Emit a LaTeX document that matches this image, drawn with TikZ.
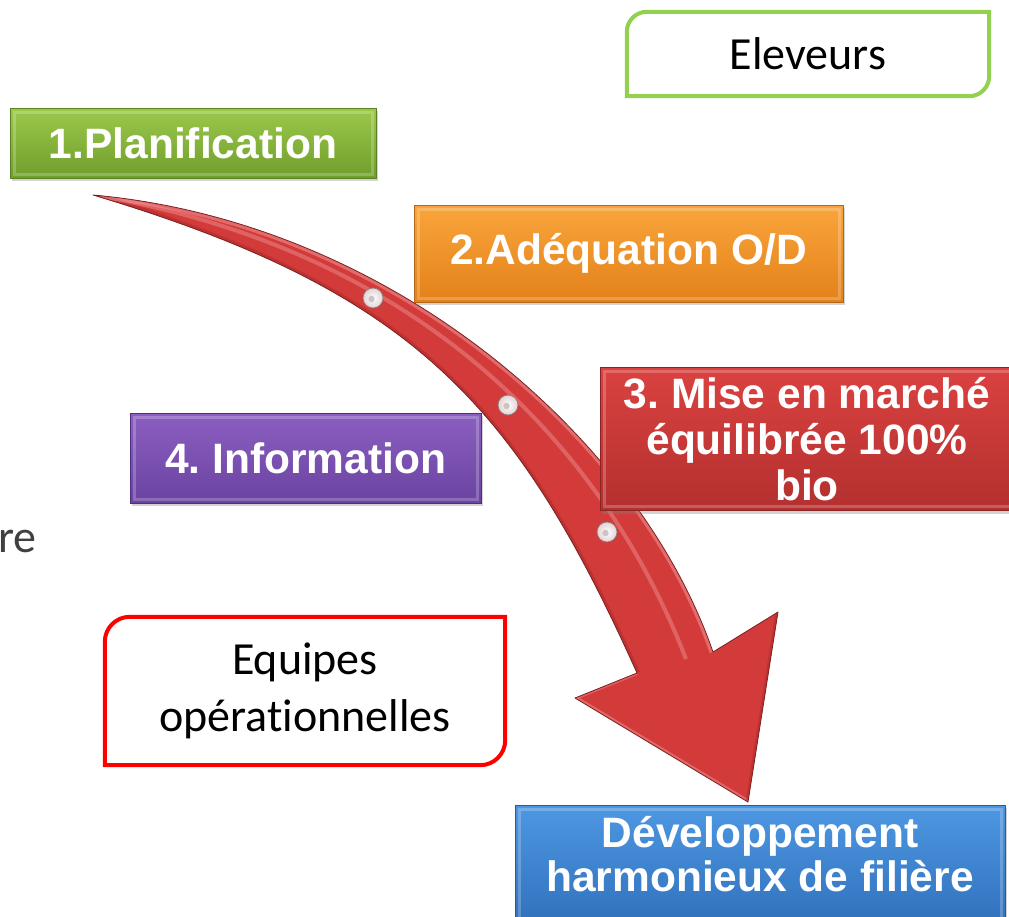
\documentclass[tikz,border=0pt]{standalone}
\usepackage{fontspec}
\setmainfont{Carlito}[Ligatures=NoCommon]
\newfontfamily\labelfont{Liberation Sans}
\usetikzlibrary{shadows}
\frenchspacing

\definecolor{greenT}{HTML}{9CC84C}
\definecolor{greenB}{HTML}{6F9E2B}
\definecolor{greenD}{HTML}{5A8224}
\definecolor{orangeT}{HTML}{F9A53B}
\definecolor{orangeB}{HTML}{E3811A}
\definecolor{orangeD}{HTML}{B5661A}
\definecolor{redT}{HTML}{DA4240}
\definecolor{redB}{HTML}{B3302F}
\definecolor{redD}{HTML}{8A2424}
\definecolor{purpleT}{HTML}{8B5FC1}
\definecolor{purpleB}{HTML}{6A43A0}
\definecolor{purpleD}{HTML}{4E3080}
\definecolor{blueT}{HTML}{4E97E2}
\definecolor{blueB}{HTML}{2F6FBA}
\definecolor{blueD}{HTML}{285A98}
\definecolor{arrowfill}{HTML}{D33B3B}
\definecolor{arrowedge}{HTML}{7B2222}
\definecolor{arrowlight}{HTML}{F29494}
\definecolor{arrowdark}{HTML}{A82828}
\definecolor{frameGreen}{HTML}{92D050}
\definecolor{frameRed}{HTML}{FF0000}
\definecolor{textgrey}{HTML}{404040}
\definecolor{rivetout}{HTML}{E2D2D2}
\definecolor{rivetedge}{HTML}{8E7878}

\begin{document}
\begin{tikzpicture}[x=1pt,y=-1pt,
  colbox/.style={line width=0.8pt, text=white, align=center, inner sep=0pt,
    font=\labelfont\bfseries\fontsize{42.5}{46}\selectfont,
    drop shadow={opacity=0.35, shadow xshift=2pt, shadow yshift=-3pt},
    path picture={\draw[white, opacity=0.22, line width=3pt]
      ([xshift=4pt,yshift=-4pt]path picture bounding box.north west) rectangle
      ([xshift=-4pt,yshift=4pt]path picture bounding box.south east);}},
  boxtext/.style={text=white, align=center, inner sep=0pt,
    font=\labelfont\bfseries\fontsize{42.5}{44}\selectfont},
  plainbox/.style={inner sep=0pt, align=center, text=black,
    font=\fontsize{46}{57}\selectfont},
  rivet/.style={circle, inner sep=0pt, minimum size=20pt,
    inner color=white, outer color=rivetout, draw=rivetedge, line width=0.7pt}
]
\useasboundingbox (0,0) rectangle (1009,916);

% curved red arrow
\def\arrowpath{(93,195) .. controls (393,222) and (640,440) .. (713,652)
  -- (778,612) -- (748,802) -- (575,698) -- (637,673)
  .. controls (515.5,403) and (413,291) .. (93,195) -- cycle}
\fill[arrowfill] \arrowpath;
\begin{scope}
  \clip \arrowpath;
  % bevel along the outer and inner edges of the shaft
  \draw[arrowlight, line width=7pt, opacity=0.55]
    (93,195) .. controls (393,222) and (640,440) .. (713,652);
  \draw[arrowdark, line width=6pt, opacity=0.5]
    (637,673) .. controls (515.5,403) and (413,291) .. (93,195);
  % light stripe along the shaft
  \draw[arrowlight, line width=4pt, opacity=0.45]
    (93,195) .. controls (400,246) and (596,427) .. (686,659);
  % head bevel
  \draw[arrowlight, line width=5pt, opacity=0.5] (575,698) -- (748,802);
  \draw[arrowdark, line width=5pt, opacity=0.45] (748,802) -- (778,612);
  \draw[arrowlight, line width=4pt, opacity=0.4] (637,673) -- (575,698);
\end{scope}
\draw[arrowedge, line width=0.8pt, line join=round] \arrowpath;

% rivets on the shaft
\node[rivet] (r1) at (373,298) {};
\node[rivet] (r2) at (508,405) {};
\node[rivet] (r3) at (607,532) {};
\foreach \r in {r1,r2,r3}
  \fill[rivetout!80!gray] ([xshift=-1.5pt,yshift=-1pt]\r.center) circle (3.2pt);

% coloured step boxes
\node[colbox, top color=greenT, bottom color=greenB, draw=greenD,
  minimum width=366pt, minimum height=70pt] (plan) at (193,143) {1.Planification};
\node[colbox, top color=orangeT, bottom color=orangeB, draw=orangeD,
  minimum width=429pt, minimum height=97pt] (adeq) at (628.5,253.5) {2.Adéquation O/D};
\node[colbox, top color=redT, bottom color=redB, draw=redD,
  minimum width=414pt, minimum height=143pt] (mise) at (807,439)
  {3. Mise en marché\\équilibrée 100\%\\bio};
\node[colbox, top color=purpleT, bottom color=purpleB, draw=purpleD,
  minimum width=351pt, minimum height=90pt] (info) at (305.5,458) {4. Information};
\node[colbox, top color=blueT, bottom color=blueB, draw=blueD,
  minimum width=490pt, minimum height=125pt, anchor=north] (devbox) at (760,805) {};
\node[boxtext] (dev) at (760,854) {Développement\\harmonieux de filière};

% framed actor boxes
\node[plainbox, minimum width=362pt, minimum height=84pt] (elev) at (808,54) {Eleveurs};
\draw[frameGreen, line width=4pt]
  (elev.south west) -- ([yshift=-20pt]elev.north west)
  arc[start angle=180, end angle=90, radius=20pt]
  -- (elev.north east) -- ([yshift=20pt]elev.south east)
  arc[start angle=0, end angle=-90, radius=20pt] -- cycle;

\node[plainbox, minimum width=400pt, minimum height=148pt] (equip) at (305,691)
  {Equipes\\opérationnelles};
\draw[frameRed, line width=4pt]
  (equip.south west) -- ([yshift=-25pt]equip.north west)
  arc[start angle=180, end angle=90, radius=25pt]
  -- (equip.north east) -- ([yshift=25pt]equip.south east)
  arc[start angle=0, end angle=-90, radius=25pt] -- cycle;

% text cut at the left margin
\node[anchor=base east, inner sep=0pt, text=textgrey,
  font=\fontsize{46}{55}\selectfont] (cut) at (37,552) {re};
\end{tikzpicture}
\end{document}
